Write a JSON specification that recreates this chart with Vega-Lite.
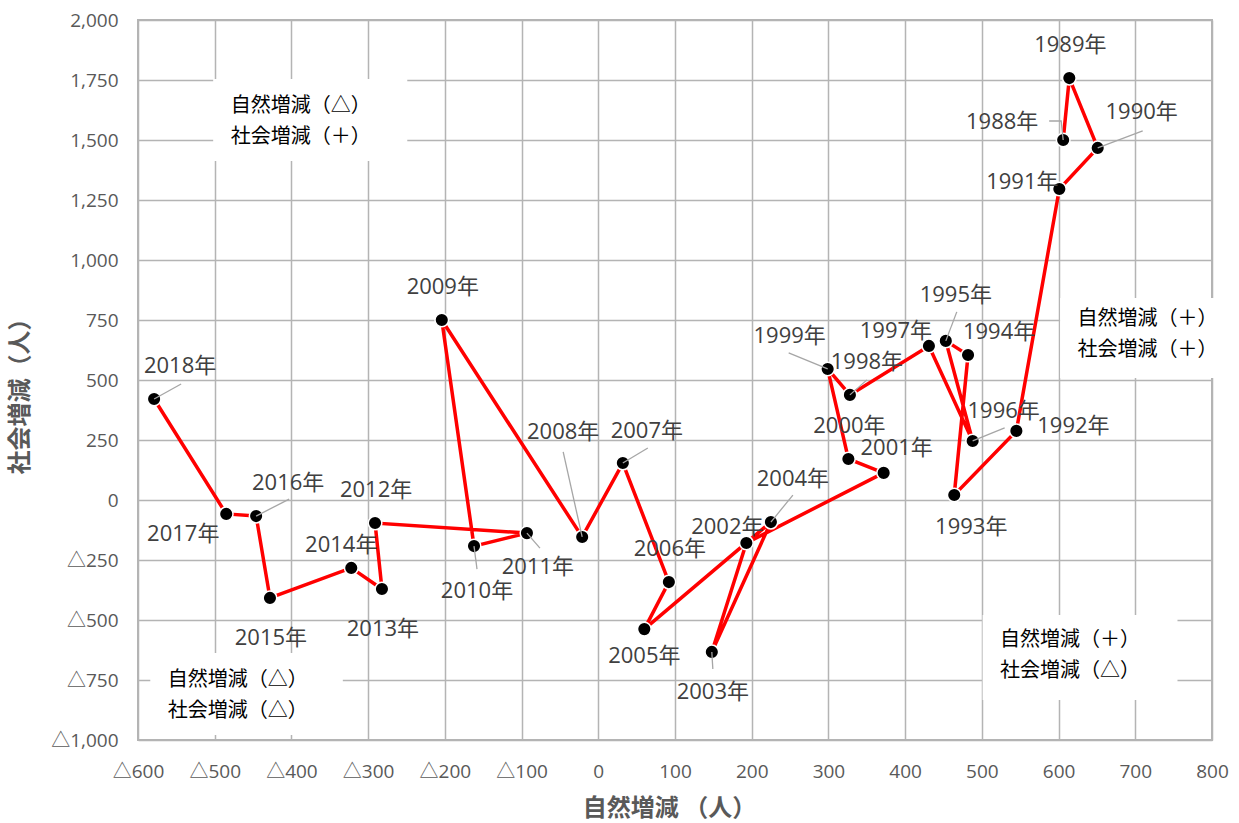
{
  "$schema": "https://vega.github.io/schema/vega-lite/v6.json",
  "width": 1074,
  "height": 720,
  "autosize": {"type": "none"},
  "padding": {"left": 138, "top": 20, "right": 27, "bottom": 83},
  "background": "white",
  "config": {
    "view": {"stroke": "#b4b4b4", "strokeWidth": 2},
    "axis": {
      "grid": true,
      "gridColor": "#b4b4b4",
      "gridWidth": 1.5,
      "domain": false,
      "ticks": false,
      "labelFont": "Open Sans, Noto Sans CJK JP",
      "labelFontSize": 19,
      "labelColor": "#595959",
      "labelOverlap": false,
      "labelFlush": false,
      "titleFont": "Noto Sans CJK JP",
      "titleFontSize": 24,
      "titleFontWeight": "bold",
      "titleColor": "#595959"
    }
  },
  "datasets": {
    "pts": [
      {"year": 1988, "label": "1988年", "x": 606, "y": 1500},
      {"year": 1989, "label": "1989年", "x": 614, "y": 1758},
      {"year": 1990, "label": "1990年", "x": 651, "y": 1467},
      {"year": 1991, "label": "1991年", "x": 601, "y": 1296},
      {"year": 1992, "label": "1992年", "x": 545, "y": 288},
      {"year": 1993, "label": "1993年", "x": 464, "y": 21},
      {"year": 1994, "label": "1994年", "x": 482, "y": 604},
      {"year": 1995, "label": "1995年", "x": 453, "y": 663},
      {"year": 1996, "label": "1996年", "x": 488, "y": 246},
      {"year": 1997, "label": "1997年", "x": 431, "y": 642},
      {"year": 1998, "label": "1998年", "x": 328, "y": 438},
      {"year": 1999, "label": "1999年", "x": 299, "y": 546},
      {"year": 2000, "label": "2000年", "x": 326, "y": 171},
      {"year": 2001, "label": "2001年", "x": 372, "y": 113},
      {"year": 2002, "label": "2002年", "x": 193, "y": -179},
      {"year": 2003, "label": "2003年", "x": 148, "y": -633},
      {"year": 2004, "label": "2004年", "x": 225, "y": -92},
      {"year": 2005, "label": "2005年", "x": 60, "y": -538},
      {"year": 2006, "label": "2006年", "x": 92, "y": -342},
      {"year": 2007, "label": "2007年", "x": 32, "y": 154},
      {"year": 2008, "label": "2008年", "x": -21, "y": -154},
      {"year": 2009, "label": "2009年", "x": -204, "y": 750},
      {"year": 2010, "label": "2010年", "x": -162, "y": -192},
      {"year": 2011, "label": "2011年", "x": -93, "y": -138},
      {"year": 2012, "label": "2012年", "x": -291, "y": -96},
      {"year": 2013, "label": "2013年", "x": -282, "y": -371},
      {"year": 2014, "label": "2014年", "x": -322, "y": -283},
      {"year": 2015, "label": "2015年", "x": -428, "y": -408},
      {"year": 2016, "label": "2016年", "x": -446, "y": -67},
      {"year": 2017, "label": "2017年", "x": -485, "y": -58},
      {"year": 2018, "label": "2018年", "x": -579, "y": 421}
    ],
    "boxes": [
      {"x": -502, "xe": -249, "y": 1754, "ye": 1412},
      {"x": 602, "xe": 835, "y": 842, "ye": 508},
      {"x": 501, "xe": 755, "y": -479, "ye": -833},
      {"x": -584, "xe": -333, "y": -637, "ye": -979}
    ],
    "notes": [
      {"x": -388, "y": 1642, "text": "自然増減（△）\n社会増減（＋）"},
      {"x": 716, "y": 754, "text": "自然増減（＋）\n社会増減（＋）"},
      {"x": 615, "y": -583, "text": "自然増減（＋）\n社会増減（△）"},
      {"x": -470, "y": -750, "text": "自然増減（△）\n社会増減（△）"}
    ]
  },
  "data": {"name": "pts"},
  "encoding": {
    "x": {
      "field": "x",
      "type": "quantitative",
      "scale": {"domain": [-600, 800], "nice": false, "zero": false},
      "axis": {
        "values": [-600, -500, -400, -300, -200, -100, 0, 100, 200, 300, 400, 500, 600, 700, 800],
        "labelExpr": "datum.value < 0 ? '△' + format(-datum.value, ',') : format(datum.value, ',')",
        "labelPadding": 22,
        "title": "自然増減 （人）",
        "titleX": 531,
        "titleY": 68,
        "titleAlign": "center",
        "titleBaseline": "middle"
      }
    },
    "y": {
      "field": "y",
      "type": "quantitative",
      "scale": {"domain": [-1000, 2000], "nice": false, "zero": false},
      "axis": {
        "values": [-1000, -750, -500, -250, 0, 250, 500, 750, 1000, 1250, 1500, 1750, 2000],
        "labelExpr": "datum.value < 0 ? '△' + format(-datum.value, ',') : format(datum.value, ',')",
        "labelPadding": 20,
        "title": "社会増減（人）",
        "titleX": -118,
        "titleY": 370,
        "titleAngle": -90,
        "titleAlign": "center",
        "titleBaseline": "middle"
      }
    }
  },
  "layer": [
    {
      "data": {"name": "boxes"},
      "mark": {"type": "rect", "fill": "white", "stroke": null},
      "encoding": {"x2": {"field": "xe"}, "y2": {"field": "ye"}}
    },
    {
      "data": {"values": [{}]},
      "mark": {"type": "rule", "color": "#878787", "strokeWidth": 4.5},
      "encoding": {
        "x": {"datum": 0, "type": "quantitative"},
        "y": {"datum": -1000, "type": "quantitative"},
        "y2": {"datum": 2000}
      }
    },
    {
      "data": {"values": [{}]},
      "mark": {"type": "rule", "color": "#878787", "strokeWidth": 4.5},
      "encoding": {
        "y": {"datum": 0, "type": "quantitative"},
        "x": {"datum": -600, "type": "quantitative"},
        "x2": {"datum": 800}
      }
    },
    {
      "data": {"name": "notes"},
      "mark": {"type": "text", "lineBreak": "\n", "lineHeight": 31, "font": "Noto Sans CJK JP", "fontSize": 20, "color": "#000000", "align": "center", "baseline": "middle"},
      "encoding": {"text": {"field": "text"}}
    },
    {
      "mark": {"type": "line", "color": "#ff0000", "strokeWidth": 3.5},
      "encoding": {"order": {"field": "year", "type": "quantitative"}}
    },
    {
      "mark": {"type": "point", "filled": true, "fill": "#000000", "stroke": "#ffffff", "strokeWidth": 1.5, "size": 185, "opacity": 1}
    },
    {"transform": [{"filter": "datum.year == 1988"}], "mark": {"type": "point", "shape": "M0,0L-2,-19L-14,-19", "size": 4, "filled": false, "color": "#a6a6a6", "strokeWidth": 1.3, "opacity": 1}},
    {"transform": [{"filter": "datum.year == 1990"}], "mark": {"type": "point", "shape": "M0,0L45,-17", "size": 4, "filled": false, "color": "#a6a6a6", "strokeWidth": 1.3, "opacity": 1}},
    {"transform": [{"filter": "datum.year == 1995"}], "mark": {"type": "point", "shape": "M0,0L11,-29", "size": 4, "filled": false, "color": "#a6a6a6", "strokeWidth": 1.3, "opacity": 1}},
    {"transform": [{"filter": "datum.year == 1996"}], "mark": {"type": "point", "shape": "M0,0L32,-13", "size": 4, "filled": false, "color": "#a6a6a6", "strokeWidth": 1.3, "opacity": 1}},
    {"transform": [{"filter": "datum.year == 1998"}], "mark": {"type": "point", "shape": "M0,0L17,-15", "size": 4, "filled": false, "color": "#a6a6a6", "strokeWidth": 1.3, "opacity": 1}},
    {"transform": [{"filter": "datum.year == 1999"}], "mark": {"type": "point", "shape": "M0,0L-39,-16", "size": 4, "filled": false, "color": "#a6a6a6", "strokeWidth": 1.3, "opacity": 1}},
    {"transform": [{"filter": "datum.year == 2003"}], "mark": {"type": "point", "shape": "M0,0L1,17", "size": 4, "filled": false, "color": "#a6a6a6", "strokeWidth": 1.3, "opacity": 1}},
    {"transform": [{"filter": "datum.year == 2004"}], "mark": {"type": "point", "shape": "M0,0L22,-27", "size": 4, "filled": false, "color": "#a6a6a6", "strokeWidth": 1.3, "opacity": 1}},
    {"transform": [{"filter": "datum.year == 2007"}], "mark": {"type": "point", "shape": "M0,0L25,-15", "size": 4, "filled": false, "color": "#a6a6a6", "strokeWidth": 1.3, "opacity": 1}},
    {"transform": [{"filter": "datum.year == 2008"}], "mark": {"type": "point", "shape": "M0,0L-19,-85", "size": 4, "filled": false, "color": "#a6a6a6", "strokeWidth": 1.3, "opacity": 1}},
    {"transform": [{"filter": "datum.year == 2010"}], "mark": {"type": "point", "shape": "M0,0L3,23", "size": 4, "filled": false, "color": "#a6a6a6", "strokeWidth": 1.3, "opacity": 1}},
    {"transform": [{"filter": "datum.year == 2011"}], "mark": {"type": "point", "shape": "M0,0L13,15", "size": 4, "filled": false, "color": "#a6a6a6", "strokeWidth": 1.3, "opacity": 1}},
    {"transform": [{"filter": "datum.year == 2016"}], "mark": {"type": "point", "shape": "M0,0L33,-17", "size": 4, "filled": false, "color": "#a6a6a6", "strokeWidth": 1.3, "opacity": 1}},
    {"transform": [{"filter": "datum.year == 2018"}], "mark": {"type": "point", "shape": "M0,0L27,-15", "size": 4, "filled": false, "color": "#a6a6a6", "strokeWidth": 1.3, "opacity": 1}},
    {"transform": [{"filter": {"field": "year", "oneOf": [1989, 2000, 2006, 2009, 2012]}}], "mark": {"type": "text", "dx": 1, "dy": -33, "font": "Open Sans, Noto Sans CJK JP", "fontSize": 22, "color": "#404040"}, "encoding": {"text": {"field": "label"}}},
    {"transform": [{"filter": {"field": "year", "oneOf": [2003, 2013, 2015]}}], "mark": {"type": "text", "dx": 1, "dy": 40, "font": "Open Sans, Noto Sans CJK JP", "fontSize": 22, "color": "#404040"}, "encoding": {"text": {"field": "label"}}},
    {"transform": [{"filter": "datum.year == 1988"}], "mark": {"type": "text", "dx": -61, "dy": -18, "font": "Open Sans, Noto Sans CJK JP", "fontSize": 22, "color": "#404040"}, "encoding": {"text": {"field": "label"}}},
    {"transform": [{"filter": "datum.year == 1990"}], "mark": {"type": "text", "dx": 44, "dy": -36, "font": "Open Sans, Noto Sans CJK JP", "fontSize": 22, "color": "#404040"}, "encoding": {"text": {"field": "label"}}},
    {"transform": [{"filter": "datum.year == 1991"}], "mark": {"type": "text", "dx": -37, "dy": -7, "font": "Open Sans, Noto Sans CJK JP", "fontSize": 22, "color": "#404040"}, "encoding": {"text": {"field": "label"}}},
    {"transform": [{"filter": "datum.year == 1992"}], "mark": {"type": "text", "dx": 57, "dy": -5, "font": "Open Sans, Noto Sans CJK JP", "fontSize": 22, "color": "#404040"}, "encoding": {"text": {"field": "label"}}},
    {"transform": [{"filter": "datum.year == 1993"}], "mark": {"type": "text", "dx": 17, "dy": 32, "font": "Open Sans, Noto Sans CJK JP", "fontSize": 22, "color": "#404040"}, "encoding": {"text": {"field": "label"}}},
    {"transform": [{"filter": "datum.year == 1994"}], "mark": {"type": "text", "dx": 31, "dy": -23, "font": "Open Sans, Noto Sans CJK JP", "fontSize": 22, "color": "#404040"}, "encoding": {"text": {"field": "label"}}},
    {"transform": [{"filter": "datum.year == 1995"}], "mark": {"type": "text", "dx": 10, "dy": -46, "font": "Open Sans, Noto Sans CJK JP", "fontSize": 22, "color": "#404040"}, "encoding": {"text": {"field": "label"}}},
    {"transform": [{"filter": "datum.year == 1996"}], "mark": {"type": "text", "dx": 31, "dy": -30, "font": "Open Sans, Noto Sans CJK JP", "fontSize": 22, "color": "#404040"}, "encoding": {"text": {"field": "label"}}},
    {"transform": [{"filter": "datum.year == 1997"}], "mark": {"type": "text", "dx": -33, "dy": -15, "font": "Open Sans, Noto Sans CJK JP", "fontSize": 22, "color": "#404040"}, "encoding": {"text": {"field": "label"}}},
    {"transform": [{"filter": "datum.year == 1998"}], "mark": {"type": "text", "dx": 17, "dy": -33, "font": "Open Sans, Noto Sans CJK JP", "fontSize": 22, "color": "#404040"}, "encoding": {"text": {"field": "label"}}},
    {"transform": [{"filter": "datum.year == 1999"}], "mark": {"type": "text", "dx": -38, "dy": -33, "font": "Open Sans, Noto Sans CJK JP", "fontSize": 22, "color": "#404040"}, "encoding": {"text": {"field": "label"}}},
    {"transform": [{"filter": "datum.year == 2001"}], "mark": {"type": "text", "dx": 13, "dy": -25, "font": "Open Sans, Noto Sans CJK JP", "fontSize": 22, "color": "#404040"}, "encoding": {"text": {"field": "label"}}},
    {"transform": [{"filter": "datum.year == 2002"}], "mark": {"type": "text", "dx": -19, "dy": -16, "font": "Open Sans, Noto Sans CJK JP", "fontSize": 22, "color": "#404040"}, "encoding": {"text": {"field": "label"}}},
    {"transform": [{"filter": "datum.year == 2004"}], "mark": {"type": "text", "dx": 22, "dy": -43, "font": "Open Sans, Noto Sans CJK JP", "fontSize": 22, "color": "#404040"}, "encoding": {"text": {"field": "label"}}},
    {"transform": [{"filter": "datum.year == 2005"}], "mark": {"type": "text", "dx": 0, "dy": 27, "font": "Open Sans, Noto Sans CJK JP", "fontSize": 22, "color": "#404040"}, "encoding": {"text": {"field": "label"}}},
    {"transform": [{"filter": "datum.year == 2007"}], "mark": {"type": "text", "dx": 24, "dy": -32, "font": "Open Sans, Noto Sans CJK JP", "fontSize": 22, "color": "#404040"}, "encoding": {"text": {"field": "label"}}},
    {"transform": [{"filter": "datum.year == 2008"}], "mark": {"type": "text", "dx": -19, "dy": -105, "font": "Open Sans, Noto Sans CJK JP", "fontSize": 22, "color": "#404040"}, "encoding": {"text": {"field": "label"}}},
    {"transform": [{"filter": "datum.year == 2010"}], "mark": {"type": "text", "dx": 3, "dy": 45, "font": "Open Sans, Noto Sans CJK JP", "fontSize": 22, "color": "#404040"}, "encoding": {"text": {"field": "label"}}},
    {"transform": [{"filter": "datum.year == 2011"}], "mark": {"type": "text", "dx": 11, "dy": 34, "font": "Open Sans, Noto Sans CJK JP", "fontSize": 22, "color": "#404040"}, "encoding": {"text": {"field": "label"}}},
    {"transform": [{"filter": "datum.year == 2014"}], "mark": {"type": "text", "dx": -10, "dy": -23, "font": "Open Sans, Noto Sans CJK JP", "fontSize": 22, "color": "#404040"}, "encoding": {"text": {"field": "label"}}},
    {"transform": [{"filter": "datum.year == 2016"}], "mark": {"type": "text", "dx": 32, "dy": -33, "font": "Open Sans, Noto Sans CJK JP", "fontSize": 22, "color": "#404040"}, "encoding": {"text": {"field": "label"}}},
    {"transform": [{"filter": "datum.year == 2017"}], "mark": {"type": "text", "dx": -43, "dy": 20, "font": "Open Sans, Noto Sans CJK JP", "fontSize": 22, "color": "#404040"}, "encoding": {"text": {"field": "label"}}},
    {"transform": [{"filter": "datum.year == 2018"}], "mark": {"type": "text", "dx": 26, "dy": -33, "font": "Open Sans, Noto Sans CJK JP", "fontSize": 22, "color": "#404040"}, "encoding": {"text": {"field": "label"}}}
  ]
}
